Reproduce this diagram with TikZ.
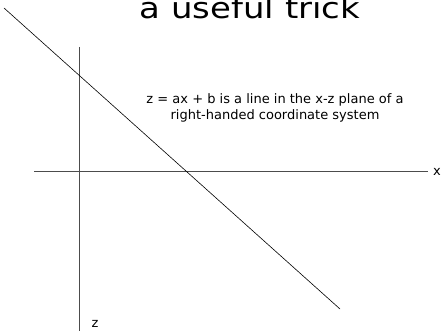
\documentclass[tikz,border=0pt]{standalone}
\usepackage{fontspec}
\setmainfont{DejaVu Sans}
\begin{document}
\begin{tikzpicture}[x=1pt,y=-1pt,
  axis/.style={draw=black!70,line width=0.9pt},
  trace/.style={draw=black,line width=0.6pt},
  lbl/.style={inner sep=0pt,font=\fontsize{13}{16}\selectfont}]
\useasboundingbox (0,0) rectangle (443,331);
\clip (0,0) rectangle (443,331);
\node[anchor=base,inner sep=0pt,font=\fontsize{29}{32}\selectfont] (title) at (250,18.5) {\scalebox{1.17}[1]{a useful trick}};
\coordinate (xl) at (34,171);
\coordinate (xr) at (428,171);
\coordinate (zt) at (79,47);
\coordinate (zb) at (79,331);
\draw[axis] (xl) -- (xr);
\draw[axis] (zt) -- (zb);
\node[lbl,anchor=west] (xlab) at (433,172) {x};
\node[lbl] (zlab) at (95,324) {z};
\coordinate (la) at (4,8);
\coordinate (lb) at (340,309);
\draw[trace] (la) -- (lb);
\node[lbl,align=center] (eq) at (275,108) {z = ax + b is a line in the x-z plane of a\\right-handed coordinate system};
\end{tikzpicture}
\end{document}
